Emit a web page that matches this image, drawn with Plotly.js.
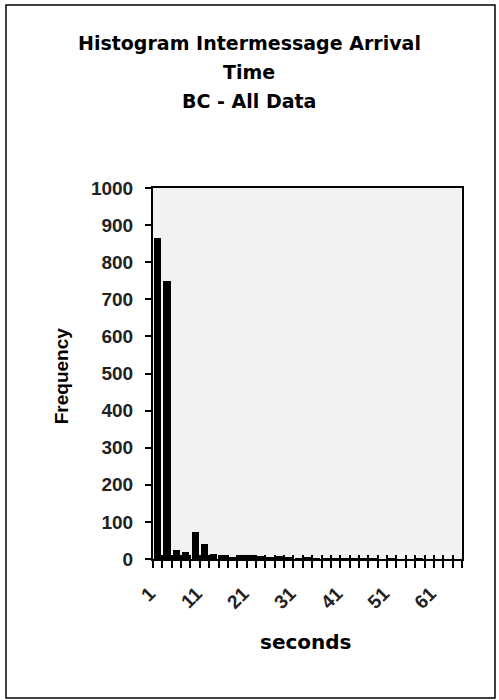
<!DOCTYPE html>
<html>
<head>
<meta charset="utf-8">
<script src="https://cdn.plot.ly/plotly-3.0.1.min.js"></script>
<style>
  html, body { margin: 0; padding: 0; background: #ffffff; }
  #chart { width: 499px; height: 700px; }
</style>
</head>
<body>
<div id="chart"></div>
<script>
// Bin start (seconds) for each 2-second histogram bin
const binStarts = [1, 3, 5, 7, 9, 11, 13, 15, 17, 19, 21, 23, 25, 27, 29, 31, 33,
                   35, 37, 39, 41, 43, 45, 47, 49, 51, 53, 55, 57, 59, 61, 63, 65];
// Count of messages falling in each bin
const frequency = [866, 748, 23, 19, 73, 41, 13, 10, 6, 10, 12, 9, 5, 8, 6, 4, 5,
                   3, 4, 3, 2, 3, 2, 2, 1, 2, 1, 1, 2, 1, 1, 1, 1];
// Labelled bins on the category axis
const xTickLabels = ['1', '11', '21', '31', '41', '51', '61'];
const yTicks = [0, 100, 200, 300, 400, 500, 600, 700, 800, 900, 1000];

const titleLines = ['Histogram Intermessage Arrival', 'Time', 'BC - All Data'];
const xTitle = 'seconds';
const yTitle = 'Frequency';

const binWidth = binStarts[1] - binStarts[0];
const xMin = binStarts[0] - binWidth / 2;
const xMax = binStarts[binStarts.length - 1] + binWidth / 2;
// tick marks sit on the bin boundaries
const boundaries = binStarts.map(v => v - binWidth / 2).concat([xMax]);

const font = 'Liberation Sans, Arial, sans-serif';
const wideFont = 'DejaVu Sans, Verdana, sans-serif';

const data = [{
  type: 'bar',
  x: binStarts,
  y: frequency,
  width: binWidth * 0.76,
  marker: { color: '#000000', line: { width: 0 } },
  hoverinfo: 'x+y'
}];

const titleY = [1.391, 1.313, 1.235];
const annotations = titleLines.map((t, i) => ({
  text: '<b>' + t + '</b>',
  xref: 'paper', yref: 'paper',
  x: 0.312, y: titleY[i],
  xanchor: 'center', yanchor: 'middle',
  showarrow: false,
  font: { family: wideFont, size: 19, color: '#000000' }
}));
annotations.push({
  text: '<b>' + xTitle + '</b>',
  xref: 'paper', yref: 'paper', x: 0.494, y: -0.224,
  xanchor: 'center', yanchor: 'middle', showarrow: false,
  font: { family: wideFont, size: 20, color: '#000000' }
});
annotations.push({
  text: '<b>' + yTitle + '</b>',
  xref: 'paper', yref: 'paper', x: -0.298, y: 0.495,
  xanchor: 'center', yanchor: 'middle', textangle: -90, showarrow: false,
  font: { family: font, size: 19, color: '#000000' }
});

const layout = {
  width: 499,
  height: 700,
  margin: { l: 153, r: 37, t: 188, b: 141, pad: 0 },
  paper_bgcolor: '#ffffff',
  plot_bgcolor: '#f2f2f2',
  showlegend: false,
  bargap: 0,
  xaxis: {
    type: 'linear',
    range: [xMin, xMax],
    tickmode: 'array',
    tickvals: xTickLabels.map(Number),
    ticktext: xTickLabels,
    ticks: '',
    tickangle: -45,
    ticklabelstandoff: 14,
    ticklabelshift: -8,
    tickfont: { family: font, size: 19, color: '#222222', weight: 'bold' },
    showgrid: false,
    zeroline: false,
    showline: true,
    linecolor: '#000000',
    linewidth: 2,
    mirror: true,
    fixedrange: true
  },
  xaxis2: {
    overlaying: 'x',
    matches: 'x',
    range: [xMin, xMax],
    tickmode: 'array',
    tickvals: boundaries,
    ticks: 'outside',
    ticklen: 8,
    tickwidth: 2,
    tickcolor: '#000000',
    showticklabels: false,
    showgrid: false,
    zeroline: false,
    showline: false
  },
  xaxis3: {
    overlaying: 'x',
    matches: 'x',
    range: [xMin, xMax],
    tickmode: 'array',
    tickvals: boundaries,
    ticks: 'inside',
    ticklen: 4,
    tickwidth: 2,
    tickcolor: '#000000',
    showticklabels: false,
    showgrid: false,
    zeroline: false,
    showline: false
  },
  yaxis: {
    range: [0, 1000],
    tickmode: 'array',
    tickvals: yTicks,
    ticktext: yTicks.map(String),
    ticks: 'outside',
    ticklen: 6,
    tickwidth: 2,
    tickcolor: '#000000',
    ticklabelstandoff: 8,
    tickfont: { family: font, size: 19, color: '#222222', weight: 'bold' },
    showgrid: false,
    zeroline: false,
    showline: true,
    linecolor: '#000000',
    linewidth: 2,
    mirror: true,
    fixedrange: true
  },
  annotations: annotations,
  shapes: [{
    type: 'rect',
    xref: 'paper', yref: 'paper',
    x0: -0.4757, x1: 1.1068, y0: -0.3747, y1: 1.4933,
    line: { color: '#000000', width: 1.5 },
    fillcolor: 'rgba(0,0,0,0)'
  }]
};

// empty traces so the boundary tick axes get drawn
data.push({ type: 'scatter', x: [], y: [], xaxis: 'x2', yaxis: 'y', hoverinfo: 'skip' });
data.push({ type: 'scatter', x: [], y: [], xaxis: 'x3', yaxis: 'y', hoverinfo: 'skip' });

Plotly.newPlot('chart', data, layout, { displayModeBar: false, staticPlot: true });
</script>
</body>
</html>
